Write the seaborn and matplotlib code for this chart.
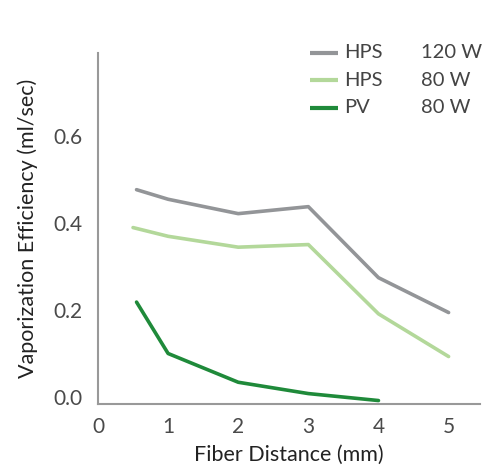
import pandas as pd
import matplotlib.pyplot as plt
import seaborn as sns

# values
hps120_x = [0.55, 1, 2, 3, 4, 5]
hps120_y = [0.476, 0.454, 0.421, 0.437, 0.274, 0.194]
hps80_x = [0.5, 1, 2, 3, 4, 5]
hps80_y = [0.389, 0.369, 0.344, 0.350, 0.191, 0.093]
pv80_x = [0.55, 1, 2, 3, 4]
pv80_y = [0.218, 0.100, 0.034, 0.008, -0.008]

series = ["HPS 120 W", "HPS 80 W", "PV 80 W"]
legend_names = ["HPS", "HPS", "PV"]
legend_watts = ["120 W", "80 W", "80 W"]
colors = ["#939598", "#b3d89a", "#1f8a3a"]

x_ticks = [0, 1, 2, 3, 4, 5]
x_tick_labels = ["0", "1", "2", "3", "4", "5"]
y_ticks = [0.0, 0.2, 0.4, 0.6]
y_tick_labels = ["0.0", "0.2", "0.4", "0.6"]

# long table for seaborn
rows = []
for name, xs, ys in zip(series, [hps120_x, hps80_x, pv80_x], [hps120_y, hps80_y, pv80_y]):
    for x, y in zip(xs, ys):
        rows.append({"dist": x, "eff": y, "series": name})
df = pd.DataFrame(rows)

sns.set_style("white")
plt.rcParams["font.family"] = ["Lato", "DejaVu Sans"]

fig = plt.figure(figsize=(4.85, 4.72), dpi=100)
ax = fig.add_axes([0.202, 0.144, 0.788, 0.744])

sns.lineplot(data=df, x="dist", y="eff", hue="series", palette=dict(zip(series, colors)),
             sort=False, linewidth=2.6, ax=ax, legend=False)

ax.set_xlim(0, 5.45)
ax.set_ylim(-0.016, 0.79)
ax.set_xticks(x_ticks)
ax.set_xticklabels(x_tick_labels)
ax.set_xticks([0.5, 1.5, 2.5, 3.5, 4.5], minor=True)
ax.set_yticks(y_ticks)
ax.set_yticklabels(y_tick_labels)

for s in ["top", "right"]:
    ax.spines[s].set_visible(False)
for s in ["left", "bottom"]:
    ax.spines[s].set_color("#999999")
    ax.spines[s].set_linewidth(1.5)
ax.tick_params(axis="both", which="both", direction="out", color="#999999",
               labelsize=15, labelcolor="#4a4a4a", width=1)
ax.tick_params(axis="y", length=5, pad=6)
ax.tick_params(axis="x", which="major", length=5, pad=4)
ax.tick_params(axis="x", which="minor", length=5)

ax.set_xlabel("Fiber Distance (mm)", fontsize=15.5, color="#222222", labelpad=6)
ax.set_ylabel("Vaporization Efficiency (ml/sec)", fontsize=15.5, color="#222222", labelpad=11)

# legend: handle line, name, wattage
for i in range(3):
    yy = 1.0 - i * 0.078
    ax.plot([0.555, 0.628], [yy, yy], transform=ax.transAxes, color=colors[i],
            linewidth=3, solid_capstyle="butt", clip_on=False)
    ax.text(0.645, yy, legend_names[i], transform=ax.transAxes, va="center", ha="left",
            fontsize=14.5, color="#444444")
    ax.text(0.845, yy, legend_watts[i], transform=ax.transAxes, va="center", ha="left",
            fontsize=14.5, color="#444444")

plt.savefig("out.png", dpi=100)
